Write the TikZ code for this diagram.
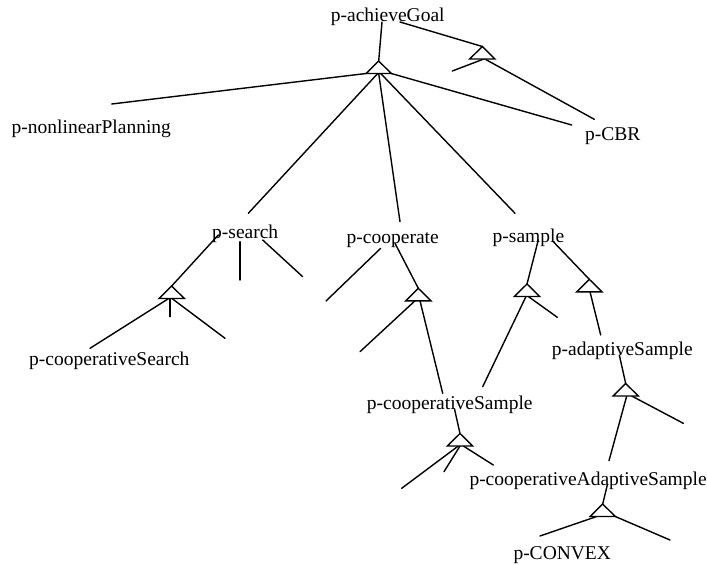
\documentclass[tikz,border=0pt]{standalone}
\usepackage{fontspec}
\setmainfont{Liberation Serif}
\usetikzlibrary{calc}

\tikzset{
  lbl/.style={anchor=base west, inner sep=0pt, font=\fontsize{19.5}{22}\selectfont},
  edge/.style={line width=1.4pt, line cap=round},
  tri/.style={line width=1.4pt, line join=miter, fill=white},
}

% AND-triangle: apex (#1), base corners (#1-l), (#1-r), base middle (#1-b)
\newcommand\andpoint[3]{%
  \path (#2,#3) coordinate (#1) ++(-12.6,12.5) coordinate (#1-l)
        ++(12.6,0) coordinate (#1-b) ++(12.6,0) coordinate (#1-r);}
\newcommand\andshape[1]{\draw[tri] (#1) -- (#1-l) -- (#1-r) -- cycle;}

\begin{document}
\begin{tikzpicture}[x=1pt, y=-1pt]
\useasboundingbox (0,0) rectangle (707,565);

% goal labels
\node[lbl] (ag)   at (330.7,21)  {p-achieveGoal};
\node[lbl] (nlp)  at (11.5,133)  {p-nonlinearPlanning};
\node[lbl] (cbr)  at (585,140)   {p-CBR};
\node[lbl] (srch) at (212,238)   {p-search};
\node[lbl] (coop) at (346.5,243) {p-cooperate};
\node[lbl] (smp)  at (492.5,242) {p-sample};
\node[lbl] (cs)   at (29,365)    {p-cooperativeSearch};
\node[lbl] (csmp) at (366.7,409) {p-cooperativeSample};
\node[lbl] (as)   at (551.7,355) {p-adaptiveSample};
\node[lbl] (cas)  at (469.3,485) {p-cooperativeAdaptiveSample};
\node[lbl] (cvx)  at (513.3,559) {p-CONVEX};

% AND-triangles
\andpoint{t1}{378.7}{61}
\andpoint{t2}{482.3}{46.5}
\andpoint{tsr}{171.7}{286}
\andpoint{tco}{418.3}{288.3}
\andpoint{tsa}{527}{284}
\andpoint{tsb}{589.3}{279.3}
\andpoint{tad}{625.7}{383.5}
\andpoint{tcs}{460}{433.5}
\andpoint{tca}{602.7}{504}

% connector end points at the labels
\coordinate (ag-a)   at (382,22);
\coordinate (ag-b)   at (400,22);
\coordinate (nlp-e)  at (111.7,104);
\coordinate (cbr-a)  at (571.7,125);
\coordinate (cbr-b)  at (594.3,119.3);
\coordinate (srch-t) at (248.3,213.3);
\coordinate (srch-a) at (218.3,235);
\coordinate (srch-b) at (240,241.7);
\coordinate (srch-c) at (262.7,240);
\coordinate (coop-t) at (400,221.7);
\coordinate (coop-a) at (380.7,248.3);
\coordinate (coop-b) at (395,243.3);
\coordinate (smp-t)  at (515,213.3);
\coordinate (smp-a)  at (538.3,240);
\coordinate (smp-b)  at (553.3,241.7);
\coordinate (cs-t)   at (90,348.3);
\coordinate (csmp-a) at (442.7,393.3);
\coordinate (csmp-b) at (482.7,386.7);
\coordinate (csmp-c) at (454.5,409);
\coordinate (as-t)   at (600.7,335);
\coordinate (as-b)   at (619.3,355);
\coordinate (cas-t)  at (609,460.7);
\coordinate (cas-b)  at (607.3,485);

% free ends
\coordinate (f1)  at (452.3,71);
\coordinate (f2)  at (170,316.7);
\coordinate (f3)  at (225,338.3);
\coordinate (f4)  at (240,280);
\coordinate (f5)  at (302.7,276.7);
\coordinate (f6)  at (326,301);
\coordinate (f7)  at (360,351.7);
\coordinate (f8)  at (557.3,317.3);
\coordinate (f9)  at (683.3,423.3);
\coordinate (f10) at (401.7,488.3);
\coordinate (f11) at (444,471.7);
\coordinate (f12) at (493.3,465);
\coordinate (f13) at (540,536);
\coordinate (f14) at (670,540);

% connectors
\draw[edge] (ag-a) -- (t1);
\draw[edge] (ag-b) -- (t2);
\draw[edge] ([xshift=1.5pt]t2-b) -- (f1);
\draw[edge] ([xshift=2.5pt]t2-b) -- (cbr-b);
\draw[edge] (t1-l) -- (nlp-e);
\draw[edge] (t1-r) -- (cbr-a);
\draw[edge] ([xshift=-1pt]t1-b) -- (srch-t);
\draw[edge] (t1-b) -- (coop-t);
\draw[edge] ([xshift=2pt]t1-b) -- (smp-t);

\draw[edge] (srch-a) -- (tsr);
\draw[edge] ([xshift=-3pt]tsr-b) -- (cs-t);
\draw[edge] ([xshift=-1.7pt]tsr-b) -- (f2);
\draw[edge] ([xshift=0.3pt]tsr-b) -- (f3);
\draw[edge] (srch-b) -- (f4);
\draw[edge] (srch-c) -- (f5);

\draw[edge] (coop-a) -- (f6);
\draw[edge] (coop-b) -- (tco);
\draw[edge] ([xshift=-3.3pt]tco-b) -- (f7);
\draw[edge] ([xshift=1.7pt]tco-b) -- (csmp-a);

\draw[edge] (smp-a) -- (tsa);
\draw[edge] ([xshift=-1pt]tsa-b) -- (csmp-b);
\draw[edge] ([xshift=1.3pt]tsa-b) -- (f8);
\draw[edge] (smp-b) -- (tsb);
\draw[edge] ([xshift=0.7pt]tsb-b) -- (as-t);

\draw[edge] (as-b) -- (tad);
\draw[edge] ([xshift=6pt]tad-b) -- (f9);
\draw[edge] ([xshift=1pt]tad-b) -- (cas-t);

\draw[edge] (csmp-c) -- (tcs);
\draw[edge] ([xshift=-1.7pt]tcs-b) -- (f10);
\draw[edge] (tcs-b) -- (f11);
\draw[edge] ([xshift=3.3pt]tcs-b) -- (f12);

\draw[edge] (cas-b) -- (tca);
\draw[edge] ([xshift=-6pt]tca-b) -- (f13);
\draw[edge] (tca-r) -- (f14);

% triangles drawn over the connector ends
\foreach \t in {t1,t2,tsr,tco,tsa,tsb,tad,tcs,tca} {\andshape{\t}}
\end{tikzpicture}
\end{document}
